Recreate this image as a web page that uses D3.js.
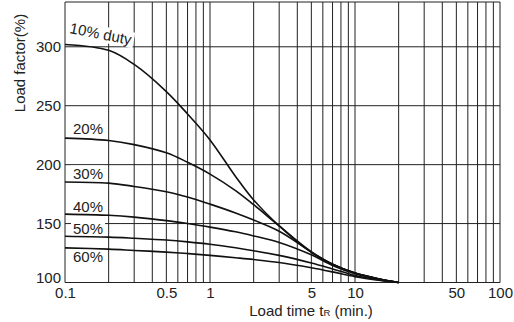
<!DOCTYPE html>
<html>
<head>
<meta charset="utf-8">
<script src="https://cdn.jsdelivr.net/npm/d3@7"></script>
<style>
  body { margin: 0; background: #fff; }
  svg { display: block; font-family: "Liberation Sans", Arial, sans-serif; }
</style>
</head>
<body>
<div class="chart"></div>
<script>
// Chart size
const width = 514;
const height = 322;

// Load time (min.) sampled along the curves
const times = [0.1, 0.2, 0.3, 0.5, 0.7, 1, 1.5, 2, 3, 5, 7, 10, 15, 20];

// Load factor (%) for each duty cycle
const duty10 = [302, 297, 285, 262, 243, 221, 190, 170, 148, 125.5, 115.5, 108, 102.8, 100];
const duty20 = [222.5, 220.5, 217, 210, 202, 192, 178, 166, 148, 126, 115.5, 108, 102.8, 100];
const duty30 = [185.3, 184.3, 181.5, 177, 172.5, 166.5, 159, 153, 143.5, 126, 115.5, 108, 102.8, 100];
const duty40 = [158, 157, 155.5, 152.5, 150, 147, 143, 139.5, 134, 123.5, 114.5, 107.5, 102.5, 100];
const duty50 = [139.3, 138.5, 137.5, 136, 134.5, 132.5, 129.5, 127, 123, 116.5, 111.5, 106, 102, 100];
const duty60 = [129.4, 128.3, 127.2, 125.8, 124.6, 123, 121, 119.5, 117, 112.5, 109, 105, 101.8, 100];

const series = [
  { label: '10% duty', values: duty10 },
  { label: '20%', values: duty20 },
  { label: '30%', values: duty30 },
  { label: '40%', values: duty40 },
  { label: '50%', values: duty50 },
  { label: '60%', values: duty60 },
];

// Ticks
const xTickLabels = [0.1, 0.5, 1, 5, 10, 50, 100];
const yTickLabels = [100, 150, 200, 250, 300];
const xGrid = [0.1, 0.2, 0.3, 0.4, 0.5, 0.6, 0.7, 0.8, 0.9,
  1, 2, 3, 4, 5, 6, 7, 8, 9, 10, 20, 30, 40, 50, 60, 70, 80, 90, 100];

const ink = '#222';
const fontSize = '15px';

const svg = d3.select('.chart')
  .append('svg')
  .attr('width', width)
  .attr('height', height);

const x = d3.scaleLog().domain([0.1, 100]).range([65, 500]);
const y = d3.scaleLinear().domain([100, 338]).range([282.5, 2]);

// Grille
const grid = svg.append('g').attr('stroke', ink).attr('stroke-width', 1);
grid.selectAll('line.v')
  .data(xGrid)
  .join('line')
    .attr('class', 'v')
    .attr('x1', d => x(d)).attr('x2', d => x(d))
    .attr('y1', y.range()[1]).attr('y2', y.range()[0]);
grid.selectAll('line.h')
  .data(yTickLabels.concat([y.domain()[1]]))
  .join('line')
    .attr('class', 'h')
    .attr('x1', x.range()[0]).attr('x2', x.range()[1])
    .attr('y1', d => y(d)).attr('y2', d => y(d));

// Axes (only labels, the grid draws the frame)
svg.append('g')
  .attr('transform', `translate(0, ${y(100)})`)
  .call(d3.axisBottom(x).tickValues(xTickLabels).tickFormat(d => d).tickSize(0).tickPadding(5))
  .call(g => g.select('.domain').remove())
  .call(g => g.selectAll('text').attr('fill', ink).style('font-size', fontSize));

svg.append('g')
  .attr('transform', `translate(${x(0.1)}, 0)`)
  .call(d3.axisLeft(y).tickValues(yTickLabels).tickSize(0).tickPadding(4))
  .call(g => g.select('.domain').remove())
  .call(g => g.selectAll('text').attr('fill', ink).style('font-size', fontSize))
  // the bottom label sits above the line so it clears "0.1"
  .call(g => g.selectAll('text').filter(d => d === 100).attr('dy', '0'));

// Axis titles
svg.append('text')
  .attr('transform', 'translate(25, 63) rotate(-90)')
  .attr('text-anchor', 'middle')
  .attr('fill', ink)
  .style('font-size', fontSize)
  .text('Load factor(%)');

const xTitle = svg.append('text')
  .attr('x', 311).attr('y', 316)
  .attr('text-anchor', 'middle')
  .attr('fill', ink)
  .style('font-size', fontSize);
xTitle.append('tspan').text('Load time t');
xTitle.append('tspan').style('font-size', '9.5px').text('R');
xTitle.append('tspan').text(' (min.)');

// Curve labels (white background behind)
const labelPos = [
  { tx: 69, ty: 33, rot: 11 },
  { tx: 73, ty: 133.5, rot: 0 },
  { tx: 73, ty: 178.5, rot: 0 },
  { tx: 73, ty: 211.5, rot: 0 },
  { tx: 73, ty: 233.5, rot: 0 },
  { tx: 73, ty: 262, rot: 0 },
];
const labels = svg.append('g');
series.forEach((s, i) => {
  const p = labelPos[i];
  const g = labels.append('g').attr('transform', `translate(${p.tx}, ${p.ty}) rotate(${p.rot})`);
  const rect = g.append('rect').attr('fill', '#fff');
  const t = g.append('text')
    .attr('fill', ink)
    .style('font-size', fontSize)
    .text(s.label);
  const b = t.node().getBBox();
  rect.attr('x', b.x - 2).attr('y', b.y + 1).attr('width', b.width + 4).attr('height', b.height - 1);
});

// Courbes
const line = d3.line()
  .x((d, i) => x(times[i]))
  .y(d => y(d))
  .curve(d3.curveCatmullRom.alpha(0.5));

svg.append('g')
  .attr('fill', 'none')
  .attr('stroke', '#111')
  .attr('stroke-width', 1.6)
  .selectAll('path')
  .data(series)
  .join('path')
    .attr('d', d => line(d.values));
</script>
</body>
</html>
